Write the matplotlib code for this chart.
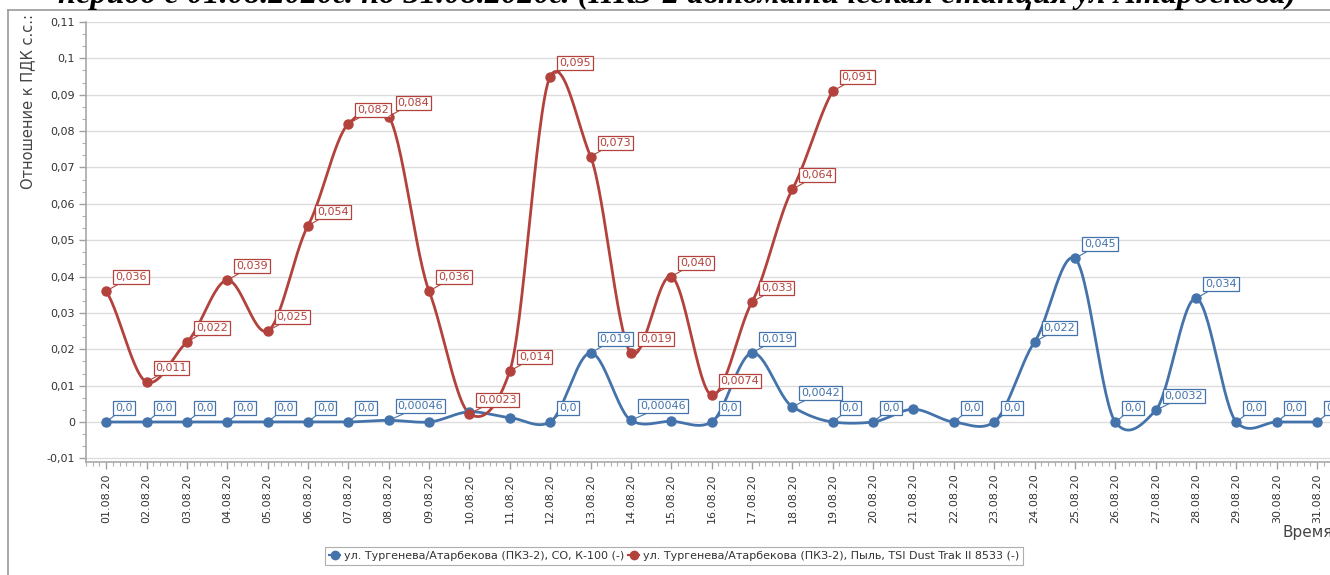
import numpy as np
import matplotlib
matplotlib.use("Agg")
import matplotlib.pyplot as plt
from matplotlib.lines import Line2D

# ---------------- data ----------------
days = list(range(1, 32))
date_labels = [f"{d:02d}.08.20" for d in days]

co_values = [0, 0, 0, 0, 0, 0, 0, 0.00046, 0, 0.0028, 0.0012, 0, 0.019, 0.00046,
             0.0002, 0, 0.019, 0.0042, 0, 0, 0.0035, 0, 0, 0.022, 0.045, 0,
             0.0032, 0.034, 0, 0, 0]
co_labels = ["0,0", "0,0", "0,0", "0,0", "0,0", "0,0", "0,0", "0,00046", "", "", "",
             "0,0", "0,019", "0,00046", "", "0,0", "0,019", "0,0042", "0,0", "0,0",
             "", "0,0", "0,0", "0,022", "0,045", "0,0", "0,0032", "0,034", "0,0",
             "0,0", "0,0"]

dust_days = list(range(1, 20))
dust_values = [0.036, 0.011, 0.022, 0.039, 0.025, 0.054, 0.082, 0.084, 0.036, 0.0023,
               0.014, 0.095, 0.073, 0.019, 0.040, 0.0074, 0.033, 0.064, 0.091]
dust_labels = ["0,036", "0,011", "0,022", "0,039", "0,025", "0,054", "0,082", "0,084",
               "0,036", "0,0023", "0,014", "0,095", "0,073", "0,019", "0,040", "0,0074",
               "0,033", "0,064", "0,091"]

y_ticks = [0.11, 0.10, 0.09, 0.08, 0.07, 0.06, 0.05, 0.04, 0.03, 0.02, 0.01, 0.0, -0.01]
y_tick_labels = ["0,11", "0,1", "0,09", "0,08", "0,07", "0,06", "0,05", "0,04", "0,03",
                 "0,02", "0,01", "0", "-0,01"]

title = "период с 01.08.2020г. по 31.08.2020г. (ПКЗ-2 автоматическая станция ул Атарбекова)"
y_label = "Отношение к ПДК с.с.:"
x_label = "Время"
series_names = ["ул. Тургенева/Атарбекова (ПКЗ-2), CO, К-100 (-)",
                "ул. Тургенева/Атарбекова (ПКЗ-2), Пыль, TSI Dust Trak II 8533 (-)"]

BLUE = "#4473AB"
RED = "#B3423D"


def cardinal(x, y, scale=0.35, n=30):
    x = np.asarray(x, float)
    y = np.asarray(y, float)
    m = np.zeros_like(y)
    m[1:-1] = (y[2:] - y[:-2]) / (x[2:] - x[:-2]) * (2 * scale)
    m[0] = (y[1] - y[0]) / (x[1] - x[0]) * (2 * scale)
    m[-1] = (y[-1] - y[-2]) / (x[-1] - x[-2]) * (2 * scale)
    xs, ys = [], []
    for i in range(len(x) - 1):
        h = x[i + 1] - x[i]
        t = np.linspace(0, 1, n, endpoint=(i == len(x) - 2))
        h00 = 2 * t**3 - 3 * t**2 + 1
        h10 = t**3 - 2 * t**2 + t
        h01 = -2 * t**3 + 3 * t**2
        h11 = t**3 - t**2
        xs.append(x[i] + t * h)
        ys.append(h00 * y[i] + h10 * h * m[i] + h01 * y[i + 1] + h11 * h * m[i + 1])
    return np.concatenate(xs), np.concatenate(ys)


W, H = 1330, 575
fig = plt.figure(figsize=(W / 100, H / 100), dpi=100)
ax = fig.add_axes([86 / W, 1 - 462 / H, (W - 86) / W, (462 - 22) / H])

ax.set_xlim(0.5, 31.32)
ax.set_ylim(-0.011, 0.11)

for yv in y_ticks:
    ax.axhline(yv, color="#dcdcdc", lw=1.0, zorder=0)

# series
for xs_, ys_, col in [(days, co_values, BLUE), (dust_days, dust_values, RED)]:
    sx, sy = cardinal(xs_, ys_)
    ax.plot(sx, sy, color=col, lw=2.0, zorder=3, solid_capstyle="round")
    ax.plot(xs_, ys_, "o", color=col, ms=6.5, mec=col, zorder=4)


def label(xv, yv, txt, col):
    if not txt:
        return
    ax.annotate(txt, xy=(xv, yv), xytext=(9, 9), textcoords="offset pixels",
                ha="left", va="bottom", fontsize=8, color=col, zorder=6,
                bbox=dict(boxstyle="square,pad=0.18", fc="white", ec=col, lw=0.9),
                arrowprops=dict(arrowstyle="-", color=col, lw=0.8,
                                shrinkA=0, shrinkB=0),
                annotation_clip=False)


for xv, yv, t in zip(days, co_values, co_labels):
    label(xv, yv, t, BLUE)
for xv, yv, t in zip(dust_days, dust_values, dust_labels):
    label(xv, yv, t, RED)

# axes styling
for s in ["top", "right"]:
    ax.spines[s].set_visible(False)
for s in ["left", "bottom"]:
    ax.spines[s].set_color("#a8a8a8")
    ax.spines[s].set_linewidth(1.2)

ax.set_yticks(y_ticks)
ax.set_yticklabels(y_tick_labels)
ax.set_yticks([v for v in np.arange(-0.01, 0.1101, 0.01 / 3)], minor=True)
ax.set_xticks(days)
ax.set_xticklabels(date_labels, rotation=90)
ax.set_xticks(np.arange(0.5, 31.33, 1 / 6), minor=True)

ax.tick_params(axis="both", which="major", colors="#a0a0a0", labelcolor="#333333",
               labelsize=8, length=5, width=1)
ax.tick_params(axis="both", which="minor", colors="#b0b0b0", length=3, width=0.8)
ax.tick_params(axis="x", which="major", pad=3)
ax.tick_params(axis="y", which="major", pad=3)

# texts
fig.text(28 / W, 1 - 14 / H, y_label, rotation=90, ha="center", va="top",
         fontsize=10.5, color="#444444")
fig.text(1283 / W, 1 - 533 / H, x_label, ha="left", va="center",
         fontsize=11, color="#444444")
fig.text(677 / W, 1 - 2.5 / H, title, ha="center", va="baseline",
         fontsize=23.3, fontweight="bold", fontstyle="italic",
         family="Liberation Serif", color="black")

# outer frame
fig.add_artist(Line2D([8 / W, 1], [1 - 9.5 / H, 1 - 9.5 / H], transform=fig.transFigure,
                      color="#9a9a9a", lw=1.2))
fig.add_artist(Line2D([8 / W, 8 / W], [0, 1 - 9.5 / H], transform=fig.transFigure,
                      color="#9a9a9a", lw=1.2))

handles = [Line2D([], [], color=BLUE, marker="o", ms=6, lw=1.5),
           Line2D([], [], color=RED, marker="o", ms=6, lw=1.5)]
leg = fig.legend(handles, series_names, loc="center",
                 bbox_to_anchor=(674 / W, 1 - 556 / H), ncol=2, fontsize=8,
                 frameon=True, fancybox=False, edgecolor="#9a9a9a",
                 handlelength=1.0, handletextpad=0.3, columnspacing=0.4,
                 borderpad=0.35, labelcolor="#333333")
leg.get_frame().set_linewidth(0.8)

fig.savefig("out.png", dpi=100)
